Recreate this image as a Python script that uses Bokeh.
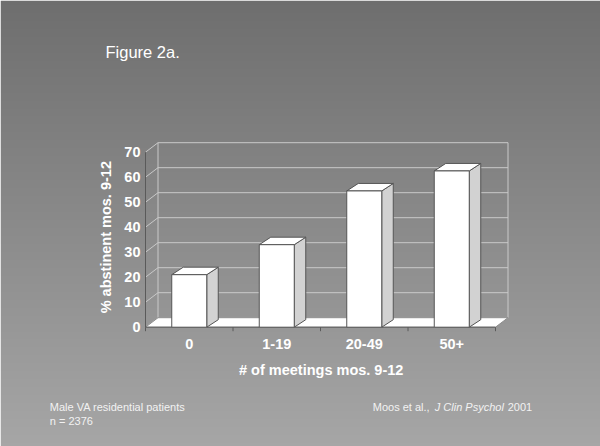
import numpy as np
from bokeh.plotting import figure
from bokeh.models import Range1d, Label
from bokeh.core.properties import value
from bokeh.embed import file_html
from bokeh.resources import INLINE

# ---- data ----
categories = ["0", "1-19", "20-49", "50+"]
abstinent = [21, 33, 54.5, 62.5]
y_ticks = [0, 10, 20, 30, 40, 50, 60, 70]

title_text = "Figure 2a."
x_title = "# of meetings mos. 9-12"
y_title = "% abstinent mos. 9-12"
note_lines = ["Male VA residential patients", "n = 2376"]

# ---- layout constants (pixels) ----
W, H = 600, 446
X0_PX = 188.75      # px of first category centre
CAT_PX = 87.5       # px per category
Y0_PX = 326.7       # px (from top) of value 0 on front plane
VAL_PX = 2.5        # px per value unit

x_start = -X0_PX / CAT_PX
x_end = (W - X0_PX) / CAT_PX
y_end = Y0_PX / VAL_PX
y_start = (Y0_PX - H) / VAL_PX

WDX, WDY = 12.5 / CAT_PX, 9.5 / VAL_PX   # wall depth
BDX, BDY = 11.5 / CAT_PX, 7.5 / VAL_PX   # bar depth
BAR_HALF = 0.2

FONT = value("Liberation Sans")

p = figure(width=W, height=H, x_range=Range1d(x_start, x_end),
           y_range=Range1d(y_start, y_end), output_backend="svg",
           toolbar_location=None, min_border=0,
           x_axis_location=None, y_axis_location=None)
p.grid.visible = False
p.outline_line_color = None
p.border_fill_color = "#8c8c8c"

# ---- background gradient ----
rows = np.arange(H)
sy = H - rows - 0.5
g = np.clip(np.round(110 + 56 * sy / 446), 0, 255).astype(np.uint8)
img = np.empty((H, 1), dtype=np.uint32)
view = img.view(dtype=np.uint8).reshape((H, 1, 4))
view[:, 0, 0] = g
view[:, 0, 1] = g
view[:, 0, 2] = g
view[:, 0, 3] = 255
p.image_rgba(image=[img], x=x_start, y=y_start, dw=x_end - x_start, dh=y_end - y_start)

n = len(categories)
left = -0.5
right = n - 0.5
ymax = y_ticks[-1]
GRID = "#c9c9c9"

# back wall gridlines
p.segment(x0=[left + WDX] * len(y_ticks), y0=[t + WDY for t in y_ticks],
          x1=[right + WDX] * len(y_ticks), y1=[t + WDY for t in y_ticks],
          line_color=GRID, line_width=1)
# side wall slants
p.segment(x0=[left] * len(y_ticks), y0=y_ticks,
          x1=[left + WDX] * len(y_ticks), y1=[t + WDY for t in y_ticks],
          line_color=GRID, line_width=1)
# back wall verticals
p.segment(x0=[left + WDX, right + WDX], y0=[WDY, WDY],
          x1=[left + WDX, right + WDX], y1=[ymax + WDY, ymax + WDY],
          line_color=GRID, line_width=1)

# floor
p.patch(x=[left, right, right + WDX, left + WDX], y=[0, 0, WDY, WDY],
        fill_color="white", line_color="#8a8a8a", line_width=1)

# front axes
p.segment(x0=[left], y0=[0], x1=[left], y1=[ymax], line_color="#5a5a5a", line_width=1)
p.segment(x0=[left], y0=[0], x1=[right], y1=[0], line_color="#5a5a5a", line_width=1)
bounds = [k - 0.5 for k in range(n + 1)]
p.segment(x0=bounds, y0=[0] * len(bounds), x1=bounds, y1=[-4 / VAL_PX] * len(bounds),
          line_color="#5a5a5a", line_width=1)

# bars
xs = list(range(n))
side_xs, side_ys, top_xs, top_ys = [], [], [], []
for i, v in zip(xs, abstinent):
    l, r = i - BAR_HALF, i + BAR_HALF
    side_xs.append([r, r, r + BDX, r + BDX])
    side_ys.append([0, v, v + BDY, BDY])
    top_xs.append([l, r, r + BDX, l + BDX])
    top_ys.append([v, v, v + BDY, v + BDY])
BAR_LINE = "#555555"
p.patches(xs=side_xs, ys=side_ys, fill_color="#d2d2d2", line_color=BAR_LINE, line_width=1)
p.patches(xs=top_xs, ys=top_ys, fill_color="white", line_color=BAR_LINE, line_width=1)
p.quad(left=[i - BAR_HALF for i in xs], right=[i + BAR_HALF for i in xs],
       bottom=[0] * n, top=abstinent, fill_color="white", line_color=BAR_LINE, line_width=1)

# tick labels
p.text(x=[left - 5 / CAT_PX] * len(y_ticks), y=y_ticks, text=[str(t) for t in y_ticks],
       text_align="right", text_baseline="middle", text_color="white",
       text_font=FONT, text_font_style="bold", text_font_size="14.5px")
p.text(x=xs, y=[-16.6 / VAL_PX] * n, text=categories,
       text_align="center", text_baseline="middle", text_color="white",
       text_font=FONT, text_font_style="bold", text_font_size="14.5px")

def lab(x, y, text, **kw):
    opts = dict(x=x, y=H - y, x_units="screen", y_units="screen", text=text,
                text_color="white", text_font="Liberation Sans",
                text_baseline="middle")
    opts.update(kw)
    p.add_layout(Label(**opts))

lab(320.7, 369.3, x_title, text_align="center", text_font_style="bold", text_font_size="14.5px")
lab(105, 236.7, y_title, text_align="center", text_font_style="bold", text_font_size="14.5px",
    angle=np.pi / 2)
lab(105, 51.7, title_text, text_align="left", text_font_size="16.5px")
lab(49.3, 406, note_lines[0], text_align="left", text_font_size="11px", text_color="#f2f2f2")
lab(49.3, 420.7, note_lines[1], text_align="left", text_font_size="11px", text_color="#f2f2f2")
lab(372.3, 406, "Moos et al., ", text_align="left", text_font_size="11px", text_color="#f2f2f2")
lab(434.3, 406, "J Clin Psychol", text_align="left", text_font_size="11px",
    text_font_style="italic", text_color="#f2f2f2")
lab(531.7, 406, "2001", text_align="right", text_font_size="11px", text_color="#f2f2f2")

open("out.html", "w").write(file_html(p, INLINE))
